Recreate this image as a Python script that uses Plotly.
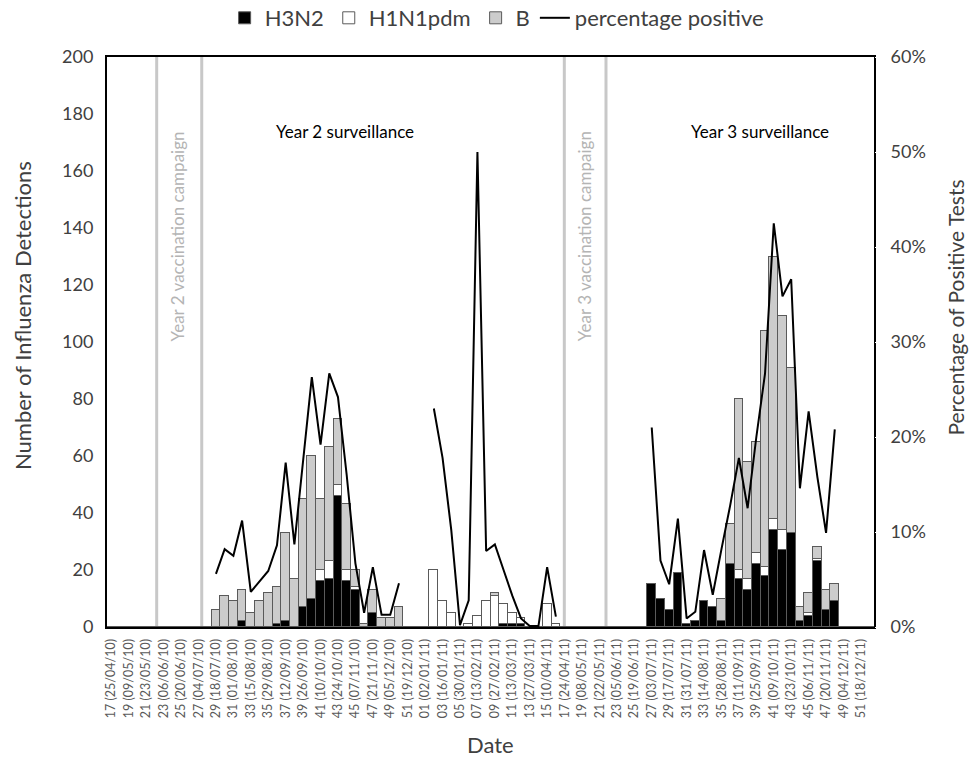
import plotly.graph_objects as go

# 88 weekly categories: 2010 wk17 .. wk52, 2011 wk01 .. wk52
tick_labels = [
    "17 (25/04/10)", "19 (09/05/10)", "21 (23/05/10)", "23 (06/06/10)", "25 (20/06/10)",
    "27 (04/07/10)", "29 (18/07/10)", "31 (01/08/10)", "33 (15/08/10)", "35 (29/08/10)",
    "37 (12/09/10)", "39 (26/09/10)", "41 (10/10/10)", "43 (24/10/10)", "45 (07/11/10)",
    "47 (21/11/10)", "49 (05/12/10)", "51 (19/12/10)", "01 (02/01/11)", "03 (16/01/11)",
    "05 (30/01/11)", "07 (13/02/11)", "09 (27/02/11)", "11 (13/03/11)", "13 (27/03/11)",
    "15 (10/04/11)", "17 (24/04/11)", "19 (08/05/11)", "21 (22/05/11)", "23 (05/06/11)",
    "25 (19/06/11)", "27 (03/07/11)", "29 (17/07/11)", "31 (31/07/11)", "33 (14/08/11)",
    "35 (28/08/11)", "37 (11/09/11)", "39 (25/09/11)", "41 (09/10/11)", "43 (23/10/11)",
    "45 (06/11/11)", "47 (20/11/11)", "49 (04/12/11)", "51 (18/12/11)",
]

h3n2 = [
    0, 0, 0, 0, 0, 0, 0, 0, 0, 0, 0, 0, 0, 0, 0, 2, 0, 0, 0, 1,      # 2010 wk17-36
    2, 0, 7, 10, 16, 17, 46, 16, 13, 0, 5, 0, 0, 0, 0, 0,              # 2010 wk37-52
    0, 0, 0, 0, 0, 0, 0, 0, 0, 1, 1, 1, 0, 0, 0, 0, 0, 0, 0, 0,        # 2011 wk1-20
    0, 0, 0, 0, 0, 0, 15, 10, 6, 19, 1, 2, 9, 7, 2, 22, 17, 13, 22, 18,  # 2011 wk21-40
    34, 27, 33, 2, 4, 23, 6, 9, 0, 0, 0, 0,                            # 2011 wk41-52
]
h1n1pdm = [
    0, 0, 0, 0, 0, 0, 0, 0, 0, 0, 0, 0, 0, 0, 0, 0, 0, 0, 0, 0,
    0, 0, 0, 0, 4, 6, 4, 4, 1, 0, 0, 0, 0, 0, 0, 0,
    0, 20, 9, 5, 0, 1, 4, 9, 11, 7, 4, 2, 0, 0, 8, 1, 0, 0, 0, 0,
    0, 0, 0, 0, 0, 0, 0, 0, 0, 0, 0, 0, 0, 0, 0, 0, 3, 4, 4, 3,
    4, 7, 0, 0, 1, 1, 0, 0, 0, 0, 0, 0,
]
flu_b = [
    0, 0, 0, 0, 0, 0, 0, 0, 0, 0, 0, 0, 6, 11, 9, 11, 5, 9, 12, 13,
    31, 17, 38, 50, 25, 40, 23, 23, 6, 1, 8, 3, 3, 7, 0, 0,
    0, 0, 0, 0, 0, 0, 0, 0, 1, 0, 0, 0, 0, 0, 0, 0, 0, 0, 0, 0,
    0, 0, 0, 0, 0, 0, 0, 0, 0, 0, 0, 0, 0, 0, 8, 14, 60, 41, 39, 83,
    92, 75, 58, 5, 7, 4, 7, 6, 0, 0, 0, 0,
]
N = None
pct_positive = [
    N, N, N, N, N, N, N, N, N, N, N, N, 5.6, 8.2, 7.5, 11.2, 3.7, 4.8, 5.9, 8.6,
    17.3, 8.7, 17.5, 26.3, 19.2, 26.7, 24.2, 16.0, 6.7, 1.5, 6.3, 1.3, 1.3, 4.6, N, N,
    N, 23.0, 17.8, 10.2, 0.2, 2.8, 50.0, 8.0, 8.7, 6.0, 3.3, 0.9, 0.1, 0.1, 6.3, 1.1, N, N, N, N,
    N, N, N, N, N, N, 21.0, 7.0, 4.5, 11.4, 0.9, 1.6, 8.1, 3.4, 8.2, 12.8, 17.8, 12.5, 20.0, 26.7,
    42.5, 34.8, 36.6, 14.6, 22.7, 15.8, 9.9, 20.8, N, N, N, N,
]
pct_frac = [None if v is None else v / 100 for v in pct_positive]

x = list(range(len(h3n2)))
tickvals = list(range(0, 2 * len(tick_labels), 2))

FONT = "Lato, 'Open Sans', sans-serif"
OUTLINE = dict(color="#5a5a5a", width=1)

fig = go.Figure()
fig.add_trace(go.Bar(x=x, y=h3n2, name="H3N2", marker=dict(color="#000000", line=OUTLINE)))
fig.add_trace(go.Bar(x=x, y=h1n1pdm, name="H1N1pdm", marker=dict(color="#ffffff", line=OUTLINE)))
fig.add_trace(go.Bar(x=x, y=flu_b, name="B", marker=dict(color="#cccccc", line=OUTLINE)))
fig.add_trace(go.Scatter(x=x, y=pct_frac, name="percentage positive", mode="lines",
                         line=dict(color="#000000", width=2), connectgaps=False, yaxis="y2"))

# vaccination campaign boundaries
for xv in [5.2, 10.37, 51.97, 56.75]:
    fig.add_shape(type="line", xref="x", yref="paper", x0=xv, x1=xv, y0=0, y1=1,
                  line=dict(color="#c8c8c8", width=3), layer="below")

C = dict(xanchor="center", yanchor="middle", showarrow=False)
annos = [
    dict(text="Year 2 surveillance", x=26.8, y=174, xref="x", yref="y",
         font=dict(size=17, color="#000000"), **C),
    dict(text="Year 3 surveillance", x=74.4, y=174, xref="x", yref="y",
         font=dict(size=17, color="#000000"), **C),
    dict(text="Year 2 vaccination campaign", x=7.65, y=137, xref="x", yref="y",
         textangle=-90, font=dict(size=17, color="#b4b4b4"), **C),
    dict(text="Year 3 vaccination campaign", x=54.3, y=137, xref="x", yref="y",
         textangle=-90, font=dict(size=17, color="#b4b4b4"), **C),
    dict(text="Number of Influenza Detections", x=-0.111, y=0.547, xref="paper", yref="paper",
         textangle=-90, font=dict(size=22, color="#404040"), **C),
    dict(text="Percentage of Positive Tests", x=1.106, y=0.561, xref="paper", yref="paper",
         textangle=-90, font=dict(size=21, color="#404040"), **C),
    dict(text="Date", x=0.4994, y=-0.207, xref="paper", yref="paper",
         font=dict(size=22, color="#404040"), **C),
]

fig.update_layout(
    width=970, height=757,
    margin=dict(l=107, r=96, t=57, b=130),
    paper_bgcolor="white", plot_bgcolor="white",
    barmode="stack", bargap=0,
    font=dict(family=FONT, color="#404040"),
    showlegend=True,
    legend=dict(orientation="h", x=0.508, xanchor="center",
                yref="container", y=1 - 18 / 757, yanchor="middle",
                traceorder="normal", font=dict(size=22, color="#404040"),
                itemwidth=30, tracegroupgap=0),
    annotations=annos,
    xaxis=dict(range=[-0.5, 87.5], tickmode="array", tickvals=tickvals, ticktext=tick_labels,
               tickangle=-90, tickfont=dict(size=12.5, color="#595959"),
               showline=True, linecolor="#000000", linewidth=2, mirror=True,
               showgrid=False, zeroline=False, ticks="outside", ticklen=5, tickcolor="white",
               automargin=False),
    yaxis=dict(range=[0, 200], dtick=20, tickfont=dict(size=18, color="#404040"),
               showline=True, linecolor="#000000", linewidth=2, mirror=True,
               showgrid=False, zeroline=False, ticks="outside", ticklen=8, tickcolor="white",
               automargin=False),
    yaxis2=dict(range=[0, 0.6], dtick=0.1, tickformat=".0%", overlaying="y", side="right",
                tickfont=dict(size=18, color="#404040"), showgrid=False, zeroline=False,
                showline=False, ticks="outside", ticklen=12, tickcolor="white",
                automargin=False),
)

fig.write_html("out.html", config={"displayModeBar": False},
               post_script="document.body.style.margin='0px';")
